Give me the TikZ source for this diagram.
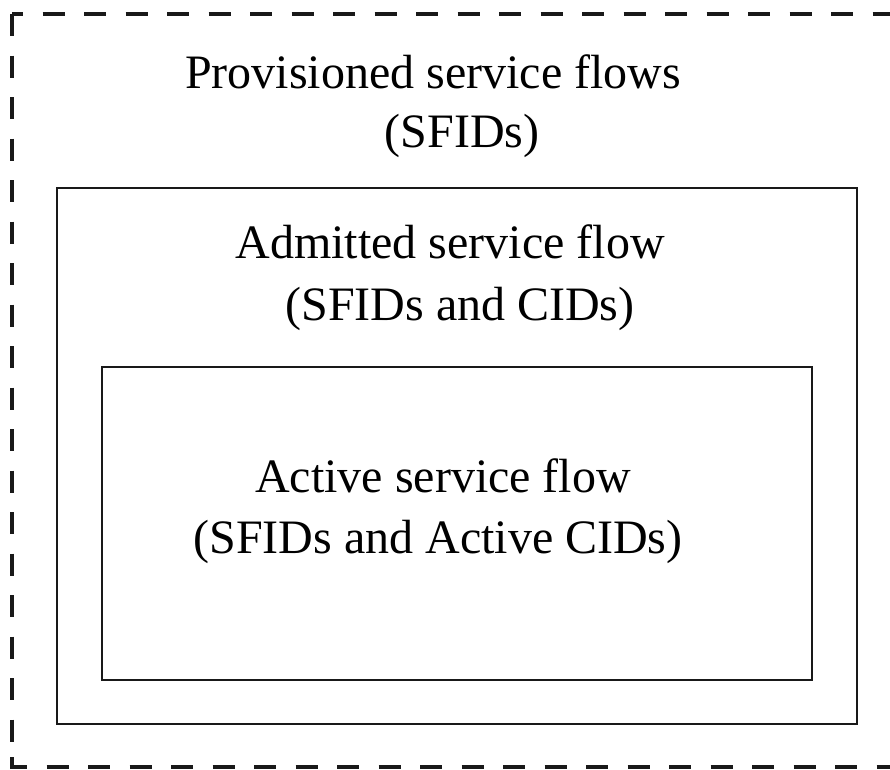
\documentclass[tikz,border=0pt]{standalone}
\usepackage{fontspec}
\setmainfont{Liberation Serif}
\begin{document}
\begin{tikzpicture}[x=1pt,y=-1pt,
  lbl/.style={anchor=base,inner sep=0pt,font=\fontsize{48}{58}\selectfont},
  boxline/.style={draw=black!90,line width=2.4pt},
  dashline/.style={draw=black!90,line width=3.4pt,dash pattern=on 22pt off 19.5pt}]
  \useasboundingbox (0,0) rectangle (890,769);
  \clip (0,0) rectangle (890,769);
  \fill[white] (0,0) rectangle (890,769);

  % outer dashed frame (right side runs past the page edge)
  \coordinate (tl) at (12,14);
  \coordinate (tr) at (905,14);
  \coordinate (bl) at (12,767);
  \coordinate (br) at (905,767);
  \coordinate (lend) at (12,745);
  \draw[dashline,dash phase=11pt] (tl) -- (tr);
  \draw[dashline] (tl) -- (lend);
  \draw[dashline,dash phase=7pt] (bl) -- (br);
  \draw[draw=black!90,line width=3.4pt] (12,757) -- (bl) -- (27,767);

  % admitted and active boxes
  \draw[boxline] (57,188) rectangle (857,724);
  \draw[boxline] (102,367) rectangle (812,680);

  % labels
  \node[lbl] (prov1) at (433,88) {Provisioned service flows};
  \node[lbl] (prov2) at (462,147) {(SFIDs)};
  \node[lbl] (adm1) at (450,258) {Admitted service flow};
  \node[lbl] (adm2) at (460,320) {(SFIDs and CIDs)};
  \node[lbl] (act1) at (443,492) {Active service flow};
  \node[lbl] (act2) at (438,553) {(SFIDs and Active CIDs)};
\end{tikzpicture}
\end{document}
